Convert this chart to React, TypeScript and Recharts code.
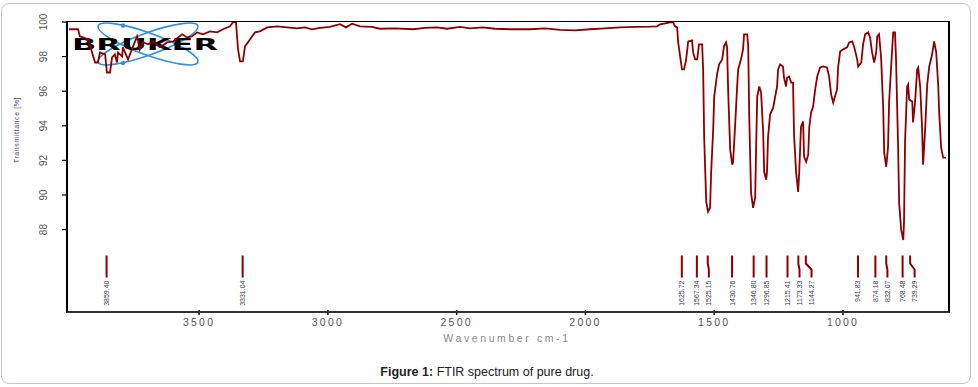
import { ComposedChart, Line, Scatter, XAxis, YAxis } from 'recharts'

// wavenumber (cm-1), left to right
const WAVENUMBERS = [
  4005, 3970, 3963, 3931, 3904, 3893, 3885, 3865, 3858, 3846,
  3838, 3827, 3819, 3815, 3799, 3796, 3776, 3761, 3741, 3730,
  3718, 3698, 3679, 3652, 3625, 3601, 3566, 3547, 3528, 3508,
  3485, 3458, 3430, 3407, 3380, 3368, 3357, 3349, 3341, 3330,
  3322, 3302, 3283, 3264, 3236, 3197,
  3159, 3120, 3089, 3062, 3031, 2992, 2953, 2930, 2906, 2875,
  2829, 2798, 2739, 2669, 2623, 2576, 2537, 2487, 2448, 2398,
  2351, 2293, 2215, 2157, 2099, 2040, 1982, 1924, 1865, 1807,
  1749, 1722,
  1710, 1671, 1660, 1652, 1644, 1640, 1629, 1625, 1617, 1609,
  1601, 1586, 1582, 1574, 1566, 1559, 1547, 1543, 1539, 1531,
  1524, 1516, 1512, 1504, 1500, 1489, 1481, 1469, 1462, 1454,
  1450, 1446, 1438, 1430, 1427, 1419, 1411, 1407, 1396, 1388,
  1384, 1372, 1368, 1364, 1357, 1349, 1341, 1337, 1333, 1325,
  1318, 1310, 1306, 1298, 1295, 1291, 1283, 1271, 1264, 1256,
  1252, 1244, 1233, 1229, 1221, 1217, 1209, 1201, 1194, 1190,
  1182, 1174, 1170, 1163, 1155, 1151, 1143, 1135, 1131, 1124,
  1116, 1108, 1100, 1089, 1077, 1062, 1054, 1046, 1038, 1031,
  1023, 1019, 1011, 999, 984, 976, 964, 957, 945, 941,
  929, 922, 914, 902, 895, 887, 879, 871, 867, 860,
  852, 844, 840, 832, 825, 821, 813, 805, 798, 794,
  786, 782, 774, 766, 763, 759, 751, 747, 743, 731,
  728, 720, 712, 708, 700, 693, 689, 681, 673, 665,
  654, 646, 638, 630, 627, 619, 611, 600,
]

// transmittance (%)
const TRANSMITTANCE = [
  99.58, 99.58, 99.17, 99.0, 97.66, 97.66, 98.24, 98.13, 97.08, 97.08,
  97.95, 98.13, 97.66, 98.24, 98.01, 98.53, 97.84, 98.42, 99.17, 98.42,
  98.82, 98.71, 98.88, 98.53, 98.82, 98.88, 99.29, 99.11, 99.17, 99.4,
  99.29, 99.46, 99.4, 99.58, 99.75, 100, 100, 98.42, 97.72, 97.72,
  98.59, 99.0, 99.4, 99.46, 99.69, 99.75,
  99.69, 99.63, 99.69, 99.58, 99.66, 99.72, 99.87, 99.69, 99.9, 99.75,
  99.72, 99.61, 99.63, 99.58, 99.66, 99.69, 99.61, 99.72, 99.63, 99.69,
  99.61, 99.58, 99.58, 99.63, 99.55, 99.52, 99.58, 99.63, 99.69, 99.72,
  99.73, 99.75,
  99.87, 99.98, 100, 99.75, 99.69, 98.82, 97.66, 97.26, 97.26, 97.84,
  98.88, 98.94, 98.24, 97.84, 97.84, 98.71, 98.71, 97.26, 93.32, 89.61,
  89.03, 89.26, 91.29, 93.78, 95.69, 96.97, 97.55, 97.84, 98.59, 98.82,
  98.53, 96.1, 92.62, 91.75, 91.87, 93.95, 96.27, 97.26, 97.84, 98.42,
  99.29, 99.29, 98.59, 94.53, 90.12, 89.26, 89.84, 92.91, 95.69, 96.27,
  95.92, 93.66, 91.34, 90.88, 91.34, 93.32, 94.65, 95.05, 95.63, 96.27,
  97.26, 97.55, 97.43, 96.79, 96.27, 96.79, 96.85, 96.5, 96.5, 93.49,
  91.29, 90.18, 91.29, 93.95, 94.24, 92.21, 91.92, 92.33, 93.9, 94.76,
  95.11, 96.1, 96.85, 97.37, 97.43, 97.37, 96.85, 95.81, 95.34, 95.69,
  96.1, 97.37, 98.3, 98.42, 98.53, 98.82, 98.88, 98.59, 97.84, 97.43,
  97.66, 98.71, 99.29, 99.4, 99.11, 98.24, 97.66, 98.24, 99.17, 99.29,
  97.95, 95.11, 92.45, 91.63, 92.79, 95.34, 97.43, 99.4, 99.4, 97.84,
  92.79, 89.55, 87.98, 87.4, 88.45, 93.08, 96.27, 96.39, 95.52, 95.4,
  94.19, 95.4, 97.26, 97.37, 96.21, 93.9, 91.75, 93.78, 96.39, 97.43,
  98.13, 98.88, 98.24, 96.27, 94.94, 92.74, 92.16, 92.16,
]

const PEAK_WAVENUMBERS = [
  3859.4, 3331.04, 1625.72, 1567.34, 1525.15, 1430.76, 1346.8, 1296.85,
  1215.41, 1173.33, 1144.27, 941.83, 874.18, 832.07, 768.48, 739.29,
]

const X_TICKS = [3500, 3000, 2500, 2000, 1500, 1000]
const Y_TICKS = [88, 90, 92, 94, 96, 98, 100]

const X_DOMAIN: [number, number] = [600, 4013]
const Y_DOMAIN: [number, number] = [83.35, 100]
const MARKER_LEVEL = 86.5

const W = 978
const H = 387
const PLOT = { left: 67, top: 22, right: 946, bottom: 310 }
const RED = '#8b0000'
const MIN_LABEL_GAP = 12

const spectrum = WAVENUMBERS.map((w, i) => ({ w, t: TRANSMITTANCE[i] }))

// push crowded peak labels to the right, like the instrument printout does
const pxPerCm = (PLOT.right - PLOT.left) / (X_DOMAIN[1] - X_DOMAIN[0])
let lastLabelX = -Infinity
const peaks = PEAK_WAVENUMBERS.map(w => {
  const pos = (X_DOMAIN[1] - w) * pxPerCm
  const labelX = Math.max(pos, lastLabelX + MIN_LABEL_GAP)
  lastLabelX = labelX
  return { w, t: MARKER_LEVEL, label: w.toFixed(2), shift: labelX - pos }
})

function PeakMark(props: any) {
  const { cx, cy, payload } = props
  if (cx == null || cy == null) return null
  const s = payload.shift
  const lx = cx + s
  const bottom = cy + 22
  const d = s > 0.5
    ? `M${cx},${cy} L${cx},${cy + 8} L${lx},${cy + 14} L${lx},${bottom}`
    : `M${cx},${cy} L${cx},${bottom}`
  const tx = lx + 2.5
  const ty = bottom + 3
  return (
    <g>
      <path d={d} stroke={RED} strokeWidth={2} fill="none" />
      <text
        x={tx}
        y={ty}
        transform={`rotate(-90 ${tx} ${ty})`}
        textAnchor="end"
        fontSize={7}
        fontFamily="Liberation Sans, Arial, sans-serif"
        fill="#3a3a4a"
      >
        {payload.label}
      </text>
    </g>
  )
}

function XTick({ x, y, payload }: any) {
  return (
    <text
      x={x}
      y={y + 9}
      textAnchor="middle"
      fontSize={10.5}
      letterSpacing={2.2}
      fontFamily="Liberation Sans, Arial, sans-serif"
      fill="#555"
    >
      {payload.value}
    </text>
  )
}

function YTick({ y, payload }: any) {
  const tx = 47
  return (
    <text
      x={tx}
      y={y}
      transform={`rotate(-90 ${tx} ${y})`}
      textAnchor="middle"
      fontSize={10}
      fontFamily="Liberation Sans Narrow, Liberation Sans, Arial, sans-serif"
      fill="#555"
    >
      {payload.value}
    </text>
  )
}

function BrukerLogo() {
  return (
    <svg width={W} height={H} style={{ position: 'absolute', left: 0, top: 0 }}>
      <g fill="none" stroke="#2f8fe8" strokeWidth={1.6}>
        <ellipse cx={148} cy={44} rx={53} ry={11} transform="rotate(20 148 44)" />
        <ellipse cx={148} cy={44} rx={53} ry={11} transform="rotate(-20 148 44)" />
      </g>
      <circle cx={123} cy={25.5} r={2.2} fill="#2f8fe8" />
      <circle cx={123} cy={63} r={2.2} fill="#2f8fe8" />
      <text
        x={72}
        y={50}
        fontSize={15}
        fontWeight={900}
        fontFamily="DejaVu Sans, Arial, sans-serif"
        textLength={146}
        lengthAdjust="spacingAndGlyphs"
        fill="#000"
      >
        BRUKER
      </text>
    </svg>
  )
}

export default function App() {
  return (
    <div
      style={{
        position: 'absolute',
        left: 0,
        top: 0,
        width: W,
        height: H,
        background: '#fff',
        overflow: 'hidden',
      }}
    >
      <div
        style={{
          position: 'absolute',
          left: 1,
          top: 3,
          width: 968,
          height: 379,
          border: '1px solid #c4c4c4',
          borderRadius: 8,
        }}
      />
      <BrukerLogo />
      <div style={{ position: 'absolute', left: 0, top: 0 }}>
        <ComposedChart
          width={W}
          height={H}
          margin={{ top: PLOT.top, right: W - PLOT.right, bottom: H - PLOT.bottom - 30, left: 0 }}
        >
          <XAxis
            type="number"
            dataKey="w"
            domain={X_DOMAIN}
            reversed
            allowDataOverflow
            ticks={X_TICKS}
            height={30}
            axisLine={false}
            tickLine={{ stroke: '#000', strokeWidth: 1.5 }}
            tickSize={5}
            tick={<XTick />}
          />
          <YAxis
            type="number"
            domain={Y_DOMAIN}
            allowDataOverflow
            ticks={Y_TICKS}
            width={PLOT.left}
            axisLine={false}
            tickLine={{ stroke: '#000', strokeWidth: 1.2 }}
            tickSize={5}
            tick={<YTick />}
          />
          <Line
            data={spectrum}
            dataKey="t"
            type="linear"
            stroke={RED}
            strokeWidth={1.8}
            dot={false}
            isAnimationActive={false}
          />
          <Scatter data={peaks} dataKey="t" shape={<PeakMark />} isAnimationActive={false} />
        </ComposedChart>
      </div>
      <div
        style={{
          position: 'absolute',
          left: PLOT.left - 1,
          top: PLOT.top - 1,
          width: PLOT.right - PLOT.left + 1,
          height: PLOT.bottom - PLOT.top + 1,
          borderTop: '1.5px solid #000',
          borderRight: '2.5px solid #000',
          borderLeft: '2px solid #000',
          borderBottom: '2px solid #333',
          pointerEvents: 'none',
        }}
      />
      <div
        style={{
          position: 'absolute',
          left: 16,
          top: 130,
          transform: 'translate(-50%, -50%) rotate(-90deg)',
          fontSize: 7,
          fontFamily: 'Liberation Sans, Arial, sans-serif',
          color: '#4a4a66',
          whiteSpace: 'nowrap',
          letterSpacing: 0.6,
        }}
      >
        Transmittance [%]
      </div>
      <div
        style={{
          position: 'absolute',
          left: 507,
          top: 338,
          transform: 'translate(-50%, -50%)',
          fontSize: 10.5,
          letterSpacing: 2.6,
          fontFamily: 'Liberation Sans, Arial, sans-serif',
          color: '#888',
          whiteSpace: 'nowrap',
        }}
      >
        Wavenumber cm-1
      </div>
      <div
        style={{
          position: 'absolute',
          left: 487,
          top: 372,
          transform: 'translate(-50%, -50%)',
          fontSize: 12.5,
          fontFamily: 'Liberation Sans Narrow, Liberation Sans, Arial, sans-serif',
          color: '#222',
          whiteSpace: 'nowrap',
        }}
      >
        <b>Figure 1:</b> FTIR spectrum of pure drug.
      </div>
    </div>
  )
}
